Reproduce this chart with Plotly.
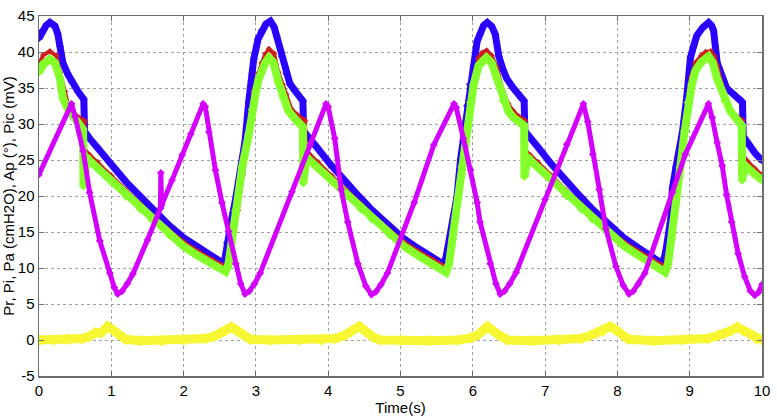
import plotly.graph_objects as go

# ---------------- data ----------------
# Blue series (Pr)
t_pr = [0.00, 0.05, 0.10, 0.15, 0.22, 0.26, 0.29, 0.33, 0.40, 0.45, 0.54, 0.62, 0.63,
        0.70, 0.81, 1.00, 1.20, 1.40, 1.55, 1.80, 2.00, 2.20, 2.40, 2.56,
        2.60, 2.66, 2.72, 2.79, 2.85, 2.90, 2.97, 3.03, 3.08, 3.14, 3.20, 3.25, 3.29,
        3.36, 3.42, 3.47, 3.55, 3.65, 3.66,
        3.73, 3.84, 4.03, 4.23, 4.43, 4.58, 4.83, 5.03, 5.23, 5.43, 5.60,
        5.63, 5.68, 5.74, 5.78, 5.83, 5.88, 5.92, 5.96, 6.01, 6.06, 6.10, 6.15, 6.20,
        6.26, 6.31, 6.36, 6.42, 6.47, 6.56, 6.65, 6.71, 6.72,
        6.79, 6.90, 7.09, 7.29, 7.49, 7.64, 7.89, 8.09, 8.29, 8.49, 8.62,
        8.65, 8.67, 8.74, 8.76, 8.81, 8.85, 8.90, 8.96, 9.01, 9.06, 9.10, 9.18, 9.26,
        9.30, 9.33, 9.38, 9.45, 9.51, 9.60, 9.70, 9.73, 9.74, 9.80, 9.90, 10.00]
pr = [41.9, 43.0, 43.7, 44.1, 43.6, 42.5, 40.8, 38.5, 36.9, 35.9, 34.5, 33.4, 29.0,
      28.0, 26.8, 24.4, 22.0, 19.9, 18.3, 15.9, 14.2, 12.8, 11.6, 10.6,
      13.5, 16.5, 19.6, 23.5, 27.6, 33.0, 39.0, 41.8, 43.0, 43.9, 44.3, 43.5, 42.1,
      39.4, 37.0, 35.6, 34.5, 33.2, 29.0,
      28.0, 26.8, 24.4, 22.0, 19.9, 18.3, 15.9, 14.2, 12.8, 11.6, 10.5,
      11.5, 14.0, 17.5, 19.8, 25.0, 29.0, 32.5, 35.5, 38.0, 41.5, 42.5, 43.7, 44.1,
      43.6, 42.5, 39.4, 37.5, 36.3, 35.0, 33.8, 33.2, 29.0,
      28.0, 26.8, 24.4, 22.0, 19.9, 18.3, 15.9, 14.2, 12.8, 11.6, 10.6,
      11.5, 12.4, 16.9, 21.0, 24.0, 25.8, 28.9, 33.8, 39.2, 41.0, 42.3, 43.4, 44.1,
      43.7, 43.0, 38.5, 36.3, 35.0, 34.2, 33.4, 33.0, 28.3, 27.3, 26.0, 24.9]

# Red series (Pi)
t_pi = [0.00, 0.06, 0.15, 0.24, 0.29, 0.36, 0.40, 0.49, 0.63, 0.64,
        0.70, 0.81, 1.00, 1.20, 1.40, 1.55, 1.80, 2.00, 2.20, 2.40, 2.58,
        2.62, 2.68, 2.75, 2.82, 2.88, 2.93, 2.97, 3.03, 3.08, 3.13, 3.18,
        3.25, 3.31, 3.37, 3.42, 3.49, 3.58, 3.68, 3.69,
        3.75, 3.86, 4.05, 4.25, 4.45, 4.60, 4.85, 5.05, 5.25, 5.45, 5.63,
        5.67, 5.72, 5.78, 5.84, 5.90, 5.95, 6.00, 6.04, 6.08, 6.13, 6.19,
        6.26, 6.33, 6.42, 6.49, 6.56, 6.64, 6.72, 6.73,
        6.79, 6.90, 7.09, 7.29, 7.49, 7.64, 7.89, 8.09, 8.29, 8.49, 8.65,
        8.69, 8.74, 8.80, 8.86, 8.92, 8.97, 9.02, 9.08, 9.16, 9.22, 9.29,
        9.34, 9.38, 9.47, 9.53, 9.58, 9.66, 9.73, 9.74, 9.80, 9.90, 10.00]
pi = [38.3, 39.6, 40.1, 39.5, 37.2, 34.5, 32.8, 31.4, 30.4, 26.3,
      25.7, 24.7, 22.8, 20.8, 18.9, 17.4, 15.2, 13.6, 12.3, 11.1, 10.2,
      11.5, 14.0, 18.0, 23.0, 27.0, 31.5, 34.5, 37.0, 38.5, 39.7, 40.4,
      39.8, 37.2, 35.5, 34.1, 32.1, 31.2, 30.5, 26.3,
      25.7, 24.7, 22.8, 20.8, 18.9, 17.4, 15.2, 13.6, 12.3, 11.1, 10.1,
      11.5, 14.0, 18.0, 23.0, 28.0, 32.0, 35.5, 37.5, 39.2, 39.9, 40.2,
      39.5, 37.9, 34.5, 32.8, 31.8, 31.0, 30.5, 26.3,
      25.7, 24.7, 22.8, 20.8, 18.9, 17.4, 15.2, 13.6, 12.3, 11.1, 10.2,
      11.5, 14.0, 19.0, 24.0, 29.0, 33.0, 36.5, 38.5, 39.5, 40.0, 40.1,
      39.4, 38.1, 34.5, 32.8, 31.8, 31.0, 30.5, 25.6, 24.8, 23.8, 22.9]

# Green series (Pa)
t_pa = [0.00, 0.06, 0.15, 0.22, 0.29, 0.33, 0.40, 0.45, 0.54, 0.60, 0.61, 0.615, 0.66,
        0.70, 0.81, 1.00, 1.20, 1.40, 1.55, 1.80, 2.00, 2.20, 2.40, 2.58,
        2.62, 2.67, 2.72, 2.81, 2.90, 2.95, 3.00, 3.04, 3.08, 3.13, 3.18,
        3.24, 3.31, 3.38, 3.45, 3.55, 3.65, 3.655, 3.70,
        3.75, 3.86, 4.05, 4.25, 4.45, 4.60, 4.85, 5.05, 5.25, 5.45, 5.63,
        5.67, 5.72, 5.78, 5.85, 5.92, 5.97, 6.01, 6.08, 6.13, 6.19,
        6.26, 6.33, 6.42, 6.49, 6.56, 6.64, 6.71, 6.715, 6.76,
        6.80, 6.91, 7.10, 7.30, 7.50, 7.65, 7.90, 8.10, 8.30, 8.50, 8.66,
        8.70, 8.75, 8.81, 8.87, 8.93, 8.98, 9.03, 9.08, 9.16, 9.26,
        9.32, 9.38, 9.49, 9.56, 9.63, 9.72, 9.725, 9.77, 9.88, 10.00]
pa = [37.2, 38.3, 39.0, 38.5, 36.3, 33.6, 32.1, 31.4, 30.3, 29.4, 29.2, 21.4, 25.4,
      24.9, 23.9, 22.0, 20.0, 18.2, 16.8, 14.6, 13.0, 11.7, 10.5, 9.5,
      10.5, 14.0, 18.0, 24.0, 28.5, 32.0, 34.5, 36.3, 37.4, 38.5, 39.2,
      38.6, 35.9, 33.6, 31.8, 30.6, 29.6, 21.8, 25.4,
      24.9, 23.9, 22.0, 20.0, 18.2, 16.8, 14.6, 13.0, 11.7, 10.5, 9.4,
      10.5, 14.0, 18.5, 24.0, 29.2, 33.0, 35.4, 38.1, 38.8, 39.2,
      38.5, 36.3, 33.2, 31.8, 30.9, 30.2, 29.8, 22.7, 25.4,
      24.9, 23.9, 22.0, 20.0, 18.2, 16.8, 14.6, 13.0, 11.7, 10.5, 9.4,
      10.5, 14.0, 19.0, 24.0, 29.0, 33.0, 35.5, 37.4, 38.6, 39.4,
      38.5, 36.3, 33.2, 31.8, 30.9, 29.8, 22.2, 24.2, 23.2, 22.2]

# Magenta series (Ap)
t_ap = [0.00, 0.45, 0.50, 0.61, 0.70, 0.84, 0.98, 1.04, 1.09, 1.15, 1.22, 1.30, 1.50,
        1.68, 1.685, 1.695, 1.84, 1.98, 2.10, 2.27, 2.30, 2.35, 2.44, 2.53, 2.62, 2.72,
        2.79, 2.85, 2.91, 2.98, 3.06, 3.50, 3.75, 3.97, 4.00, 4.09, 4.18, 4.27, 4.41,
        4.52, 4.60, 4.66, 4.73, 4.82, 5.19, 5.46, 5.74, 5.77, 5.87, 5.97, 6.06, 6.10,
        6.24, 6.32, 6.38, 6.44, 6.51, 6.60, 7.00, 7.30, 7.53, 7.59, 7.66, 7.75, 7.84,
        7.98, 8.08, 8.16, 8.22, 8.29, 8.38, 8.76, 8.94, 9.26, 9.31, 9.38, 9.45, 9.51,
        9.58, 9.67, 9.76, 9.84, 9.90, 9.95, 10.00]
ap = [23.0, 32.8, 31.0, 26.3, 20.5, 13.8, 9.3, 7.3, 6.4, 6.8, 7.8, 9.2, 13.9,
      18.3, 23.2, 18.7, 22.2, 25.7, 28.6, 32.8, 32.4, 28.9, 23.6, 19.1, 15.1, 10.6,
      7.8, 6.4, 6.8, 7.8, 9.3, 20.6, 27.1, 32.8, 32.4, 28.0, 20.9, 16.4, 10.6,
      7.5, 6.3, 6.7, 7.7, 9.3, 19.1, 27.1, 32.8, 32.3, 28.0, 23.6, 19.1, 16.4,
      10.6, 7.8, 6.4, 6.8, 7.8, 9.4, 19.5, 27.2, 32.8, 30.3, 25.8, 20.9, 15.5,
      10.2, 7.6, 6.4, 6.8, 7.8, 9.3, 20.5, 25.8, 32.8, 30.9, 27.4, 24.2, 20.2,
      16.4, 12.0, 8.8, 6.8, 6.2, 6.6, 7.7]

# Yellow series (Pic)
t_pic = [0.00, 0.20, 0.40, 0.60, 0.70, 0.78, 0.86, 0.95, 1.02, 1.10, 1.20, 1.40, 1.70,
         2.00, 2.30, 2.42, 2.52, 2.58, 2.66, 2.74, 2.82, 2.92, 3.20, 3.60, 3.90, 4.10,
         4.22, 4.32, 4.43, 4.52, 4.62, 4.72, 5.00, 5.40, 5.80, 5.98, 6.08, 6.20, 6.29,
         6.38, 6.48, 6.80, 7.20, 7.50, 7.62, 7.72, 7.80, 7.90, 7.98, 8.06, 8.15, 8.50,
         8.90, 9.25, 9.38, 9.48, 9.57, 9.66, 9.74, 9.82, 9.92, 10.00]
pic = [0.0, 0.0, 0.1, 0.2, 0.5, 1.0, 1.0, 1.9, 1.4, 0.8, 0.1, -0.1, -0.1,
       0.0, 0.2, 0.5, 1.0, 1.3, 1.8, 1.3, 0.8, 0.1, 0.0, 0.0, 0.0, 0.2,
       0.6, 1.2, 1.9, 1.2, 0.4, 0.0, -0.1, -0.1, 0.0, 0.3, 0.8, 1.9, 1.2,
       0.5, 0.0, -0.1, 0.0, 0.2, 0.6, 1.0, 1.3, 1.9, 1.4, 0.8, 0.1, -0.1,
       0.0, 0.2, 0.6, 0.9, 1.3, 1.8, 1.3, 0.9, 0.2, 0.0]

x_ticks = list(range(0, 11))
y_ticks = list(range(-5, 46, 5))

# ---------------- figure ----------------
series = [
    (t_pr, pr, "#2a00ff", 7, 6),
    (t_pi, pi, "#cc2020", 4, 5),
    (t_pa, pa, "#84ff2a", 8, 7),
    (t_ap, ap, "#d400ff", 5, 6),
    (t_pic, pic, "#f6f632", 9, 9),
]

fig = go.Figure()
for xs, ys, col, lw, ms in series:
    fig.add_trace(go.Scatter(
        x=xs, y=ys, mode="lines+markers",
        line=dict(color=col, width=lw),
        marker=dict(symbol="diamond", size=ms, color=col),
        showlegend=False, hoverinfo="skip"))

font = dict(family="Liberation Sans, Arial, sans-serif", size=15, color="black")

axis_common = dict(
    showline=True, linecolor="#6e6e6e", linewidth=1.5, mirror="ticks",
    ticks="inside", ticklen=5, tickcolor="#6e6e6e", tickwidth=1,
    showgrid=True, gridcolor="#a0a0a0", gridwidth=1, griddash="dot",
    zeroline=False, tickfont=font,
)

fig.update_layout(
    width=777, height=416,
    margin=dict(l=39, r=10, t=7, b=36),
    paper_bgcolor="white", plot_bgcolor="white",
    font=font,
    xaxis=dict(range=[0, 10], tickvals=x_ticks, ticktext=[str(v) for v in x_ticks],
               title=dict(text="Time(s)", font=font, standoff=0), **axis_common),
    yaxis=dict(range=[-5, 45], tickvals=y_ticks, ticktext=[str(v) for v in y_ticks],
               title=dict(text="Pr, Pi, Pa (cmH2O), Ap (°), Pic (mV)", font=font, standoff=0),
               **axis_common),
)

fig.write_html("out.html",
               config={"displayModeBar": False, "staticPlot": True},
               post_script="document.body.style.margin='0';document.body.style.overflow='hidden';")
